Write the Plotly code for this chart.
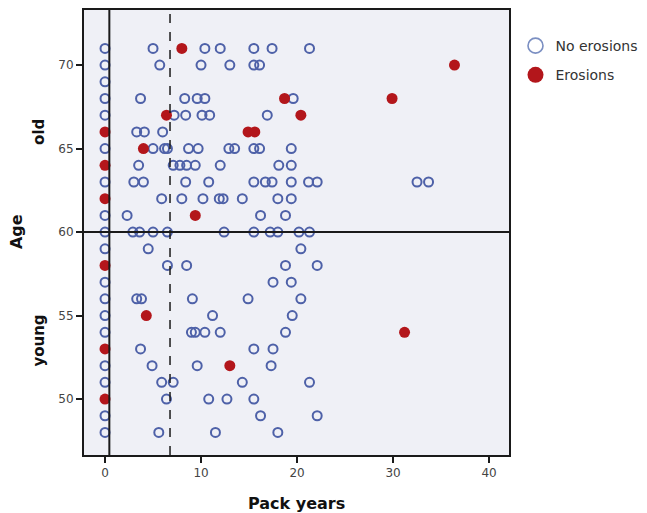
import plotly.graph_objects as go

# ---- data (pack years vs age) ----
no_eros_age = (
    [71]*7 + [70]*6 + [69]*1 + [68]*6 + [67]*6 + [66]*3 + [65]*11 + [64]*8 +
    [63]*13 + [62]*8 + [61]*4 + [60]*11 + [59]*3 + [58]*4 + [57]*3 + [56]*6 +
    [55]*3 + [54]*6 + [53]*3 + [52]*4 + [51]*5 + [50]*4 + [49]*3 + [48]*4
)
no_eros_pack = (
    [0, 5.0, 10.4, 12.0, 15.5, 17.4, 21.3] +
    [0, 5.7, 10.0, 13.0, 15.5, 16.1] +
    [0] +
    [0, 3.7, 8.3, 9.6, 10.4, 19.6] +
    [0, 7.2, 8.4, 10.1, 10.9, 16.9] +
    [3.3, 4.1, 6.0] +
    [0, 5.0, 6.2, 6.5, 8.7, 9.7, 12.9, 13.5, 15.5, 16.1, 19.4] +
    [3.5, 7.1, 7.8, 8.5, 9.4, 12.0, 18.1, 19.4] +
    [0, 3.0, 4.0, 8.4, 10.8, 15.5, 16.7, 17.4, 19.4, 21.2, 22.1, 32.5, 33.7] +
    [5.9, 8.0, 10.2, 11.9, 12.3, 14.3, 18.0, 19.4] +
    [0, 2.3, 16.2, 18.8] +
    [0, 2.9, 3.6, 5.0, 6.5, 12.4, 15.5, 17.2, 18.0, 20.2, 21.3] +
    [0, 4.5, 20.4] +
    [6.5, 8.5, 18.8, 22.1] +
    [0, 17.5, 19.4] +
    [0, 3.3, 3.8, 9.1, 14.9, 20.4] +
    [0, 11.2, 19.5] +
    [0, 9.0, 9.4, 10.4, 12.0, 18.8] +
    [3.7, 15.5, 17.5] +
    [0, 4.9, 9.6, 17.3] +
    [0, 5.9, 7.1, 14.3, 21.3] +
    [6.4, 10.8, 12.7, 15.5] +
    [0, 16.2, 22.1] +
    [0, 5.6, 11.5, 18.0]
)
eros_age = [71, 70, 68, 68, 67, 67, 66, 66, 66, 65, 64, 62, 61, 58, 55, 54, 53, 52, 50]
eros_pack = [8.0, 36.4, 18.7, 29.9, 6.4, 20.4, 0, 14.9, 15.6, 4.0, 0, 0, 9.4, 0, 4.3, 31.2, 0, 13.0, 0]

x_ticks = [0, 10, 20, 30, 40]
y_ticks = [50, 55, 60, 65, 70]
ref_x_solid = 0.45
ref_x_dashed = 6.77
ref_y = 60

BLUE = "#4e61a8"
RED = "#b3161b"
FONT = "DejaVu Sans"

fig = go.Figure()
fig.add_trace(go.Scatter(
    x=no_eros_pack, y=no_eros_age, mode="markers", name="No erosions", showlegend=False,
    legendgroup="a",
    marker=dict(symbol="circle-open", size=9, color=BLUE, line=dict(width=2, color=BLUE)),
))
fig.add_trace(go.Scatter(
    x=eros_pack, y=eros_age, mode="markers", name="Erosions", showlegend=False,
    legendgroup="b",
    marker=dict(symbol="circle", size=11, color=RED, line=dict(width=0)),
))
# legend entries (empty traces with larger legend symbols)
fig.add_trace(go.Scatter(
    x=[None], y=[None], mode="markers", name="No erosions", legendgroup="a",
    marker=dict(symbol="circle-open", size=15, color="#7b8fc2", line=dict(width=1.6, color="#7b8fc2")),
))
fig.add_trace(go.Scatter(
    x=[None], y=[None], mode="markers", name="Erosions", legendgroup="b",
    marker=dict(symbol="circle", size=16, color=RED, line=dict(width=0)),
))

fig.add_shape(type="line", xref="x", yref="paper", x0=ref_x_solid, x1=ref_x_solid, y0=0, y1=1,
              line=dict(color="#1a1a1a", width=2))
fig.add_shape(type="line", xref="x", yref="paper", x0=ref_x_dashed, x1=ref_x_dashed, y0=0, y1=1,
              line=dict(color="#1a1a1a", width=1.5, dash="dash"))
fig.add_shape(type="line", xref="paper", yref="y", x0=0, x1=1, y0=ref_y, y1=ref_y,
              line=dict(color="#1a1a1a", width=2))

bold = dict(family=FONT, size=16, color="#111")
fig.add_annotation(text="<b>Age</b>", xref="paper", yref="y", x=0, xshift=-68, y=60,
                   showarrow=False, textangle=-90, font=bold, xanchor="center", yanchor="middle")
fig.add_annotation(text="<b>old</b>", xref="paper", yref="y", x=0, xshift=-45, y=66.0,
                   showarrow=False, textangle=-90, font=dict(family=FONT, size=15, color="#111"),
                   xanchor="center", yanchor="middle")
fig.add_annotation(text="<b>young</b>", xref="paper", yref="y", x=0, xshift=-45, y=53.5,
                   showarrow=False, textangle=-90, font=dict(family=FONT, size=15, color="#111"),
                   xanchor="center", yanchor="middle")
fig.add_annotation(text="<b>Pack years</b>", xref="paper", yref="paper", x=0.501, y=0, yshift=-48,
                   showarrow=False, font=bold, xanchor="center", yanchor="middle")

fig.update_layout(
    width=647, height=513,
    margin=dict(l=84, r=138, t=10, b=58, autoexpand=False),
    paper_bgcolor="white",
    plot_bgcolor="#eff0f6",
    font=dict(family=FONT, color="#444"),
    showlegend=True,
    legend=dict(x=1.0153, y=0.955, xanchor="left", yanchor="top",
                font=dict(family=FONT, size=14, color="#333"),
                bgcolor="rgba(0,0,0,0)", itemsizing="trace", traceorder="grouped",
                tracegroupgap=8),
    xaxis=dict(
        range=[-2.19, 42.08], tickvals=x_ticks, ticktext=[str(v) for v in x_ticks],
        showgrid=False, zeroline=False, showline=True, linecolor="#1a1a1a", linewidth=2,
        mirror=True, ticks="outside", ticklen=6, tickwidth=2, tickcolor="#1a1a1a",
        tickfont=dict(family=FONT, size=12, color="#444"),
    ),
    yaxis=dict(
        range=[46.65, 73.3], tickvals=y_ticks, ticktext=[str(v) for v in y_ticks],
        showgrid=False, zeroline=False, showline=True, linecolor="#1a1a1a", linewidth=2,
        mirror=True, ticks="outside", ticklen=6, tickwidth=2, tickcolor="#1a1a1a",
        tickfont=dict(family=FONT, size=12, color="#444"),
    ),
)

fig.write_html("out.html", config={"displayModeBar": False},
               post_script="document.body.style.margin='0';")
